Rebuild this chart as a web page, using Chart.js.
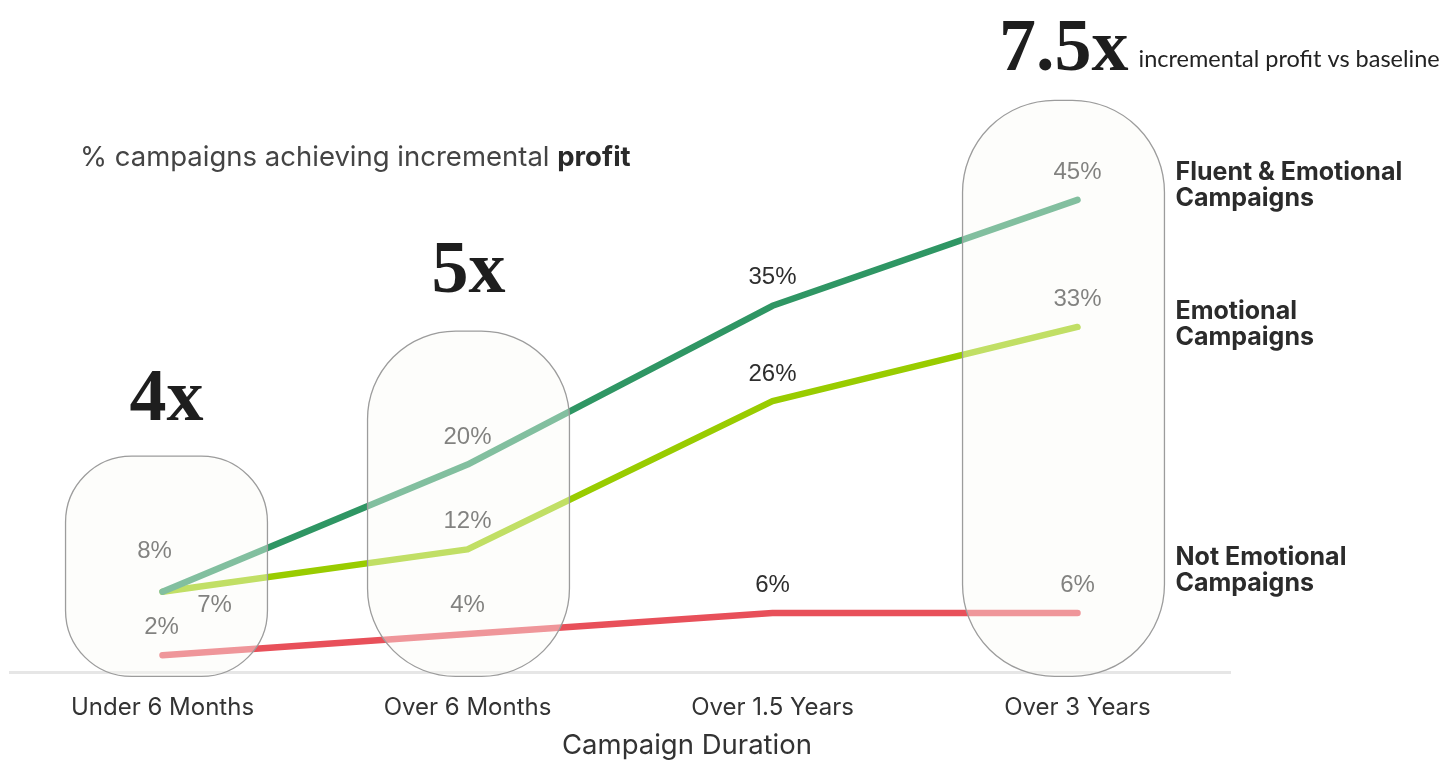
<!DOCTYPE html>
<html>
<head>
<meta charset="utf-8">
<script src="https://cdn.jsdelivr.net/npm/chart.js@4.4.0/dist/chart.umd.min.js"></script>
<style>
  html, body { margin: 0; padding: 0; background: #fff; }
  #wrap { width: 1450px; height: 776px; position: relative; }
</style>
</head>
<body>
<div id="wrap"><canvas id="profitChart"></canvas></div>
<script>
// chart data
const durations = ['Under 6 Months', 'Over 6 Months', 'Over 1.5 Years', 'Over 3 Years'];
const fluentEmotional = [8, 20, 35, 45];
const emotional = [8, 12, 26, 33];   // first point is drawn on the same spot as the 8% one
const notEmotional = [2, 4, 6, 6];
const fluentLabels = ['8%', '20%', '35%', '45%'];
const emotionalLabels = ['7%', '12%', '26%', '33%'];
const notEmotionalLabels = ['2%', '4%', '6%', '6%'];
const seriesNames = [['Fluent & Emotional', 'Campaigns'], ['Emotional', 'Campaigns'], ['Not Emotional', 'Campaigns']];
const multipliers = ['4x', '5x', '7.5x'];
const axisTitle = 'Campaign Duration';

// label placement relative to each point [dx, dy]
const labelOffsets = [
    [[-8, -40], [0, -27], [0, -28], [0, -27]],
    [[52, 14], [0, -28], [0, -27], [0, -28]],
    [[-1, -28], [0, -29], [0, -28], [0, -28]]
];
const nameOffsets = [-27, -15, -55];

// highlighted columns
const pills = [
    { index: 0, dx: 4, top: 20.8, radius: 66, text: 0, textDy: -36 },
    { index: 1, dx: 1, top: 32.6, radius: 88, text: 1, textDy: -39 },
    { index: 3, dx: -14, top: 54.4, radius: 92, text: 2, textDy: -30 }
];

const SANS = 'Inter, "Noto Sans", sans-serif';

function pillPath(ctx, x, y, w, h, r) {
    ctx.beginPath();
    ctx.moveTo(x + r, y);
    ctx.arcTo(x + w, y, x + w, y + h, r);
    ctx.arcTo(x + w, y + h, x, y + h, r);
    ctx.arcTo(x, y + h, x, y, r);
    ctx.arcTo(x, y, x + w, y, r);
    ctx.closePath();
}

const overlay = {
    id: 'overlay',
    afterDatasetsDraw(chart) {
        const ctx = chart.ctx;
        const xs = chart.scales.x, ys = chart.scales.y;
        ctx.save();

        // value labels
        ctx.font = '24px "Liberation Sans", Arial, sans-serif';
        ctx.fillStyle = '#2e2e2e';
        ctx.textAlign = 'center';
        ctx.textBaseline = 'middle';
        chart.data.datasets.forEach((ds, di) => {
            chart.getDatasetMeta(di).data.forEach((pt, i) => {
                const off = labelOffsets[di][i];
                ctx.fillText(ds.valueLabels[i], pt.x + off[0], pt.y + off[1]);
            });
        });

        // pills on top, semi transparent
        const step = xs.getPixelForValue(1) - xs.getPixelForValue(0);
        pills.forEach(p => {
            const cx = xs.getPixelForValue(p.index) + p.dx;
            const half = step * 0.331;
            const top = ys.getPixelForValue(p.top);
            const bottom = ys.getPixelForValue(0);
            pillPath(ctx, cx - half, top, half * 2, bottom - top, p.radius);
            ctx.fillStyle = 'rgba(250, 249, 245, 0.41)';
            ctx.fill();
            ctx.strokeStyle = '#9c9c9c';
            ctx.lineWidth = 1.3;
            ctx.stroke();
        });

        // big multipliers
        ctx.fillStyle = '#1e1e1e';
        ctx.font = 'bold 74px "Liberation Serif", "DejaVu Serif", serif';
        ctx.textBaseline = 'alphabetic';
        pills.forEach(p => {
            const cx = xs.getPixelForValue(p.index) + p.dx;
            const top = ys.getPixelForValue(p.top);
            const txt = multipliers[p.text];
            if (p.text < 2) {
                ctx.textAlign = 'center';
                ctx.fillText(txt, cx, top + p.textDy);
            } else {
                ctx.textAlign = 'left';
                ctx.fillText(txt, 999, top + p.textDy);
                const w = ctx.measureText(txt).width;
                ctx.save();
                ctx.font = '23.5px Lato, "Open Sans", sans-serif';
                ctx.fillStyle = '#222';
                ctx.fillText('incremental profit vs baseline', 999 + w + 10, top + p.textDy - 3);
                ctx.restore();
            }
        });

        // chart subtitle
        ctx.textAlign = 'left';
        ctx.textBaseline = 'middle';
        ctx.fillStyle = '#444';
        ctx.font = '27.5px ' + SANS;
        const part1 = '% campaigns achieving incremental ';
        ctx.fillText(part1, 80, 158);
        const w1 = ctx.measureText(part1).width;
        ctx.font = 'bold 27.5px ' + SANS;
        ctx.fillStyle = '#2a2a2a';
        ctx.fillText('profit', 80 + w1, 158);

        // series names at line ends
        ctx.font = 'bold 25px ' + SANS;
        ctx.fillStyle = '#2b2b2b';
        chart.data.datasets.forEach((ds, di) => {
            const meta = chart.getDatasetMeta(di).data;
            const last = meta[meta.length - 1];
            seriesNames[di].forEach((line, li) => {
                ctx.fillText(line, last.x + 98, last.y + nameOffsets[di] + li * 26);
            });
        });

        // x axis title, sits right of the plot centre in the original
        ctx.textAlign = 'center';
        ctx.font = '27.5px ' + SANS;
        ctx.fillStyle = '#333';
        ctx.fillText(axisTitle, (xs.left + xs.right) / 2 + 67, 746);

        ctx.restore();
    }
};

const ctx = document.getElementById('profitChart').getContext('2d');
const lineStyle = {
    borderWidth: 6.5,
    pointRadius: 0,
    pointHoverRadius: 0,
    tension: 0,
    borderCapStyle: 'round',
    borderJoinStyle: 'round',
    fill: false
};

const profitChart = new Chart(ctx, {
    type: 'line',
    data: {
        labels: durations,
        datasets: [
            Object.assign({ label: 'Fluent & Emotional Campaigns', data: fluentEmotional, valueLabels: fluentLabels, borderColor: '#2f9664' }, lineStyle),
            Object.assign({ label: 'Emotional Campaigns', data: emotional, valueLabels: emotionalLabels, borderColor: '#99cc00' }, lineStyle),
            Object.assign({ label: 'Not Emotional Campaigns', data: notEmotional, valueLabels: notEmotionalLabels, borderColor: '#e8505a' }, lineStyle)
        ]
    },
    options: {
        responsive: true,
        maintainAspectRatio: false,
        animation: false,
        layout: { padding: { left: 10, right: 220, top: 41, bottom: 33 } },
        plugins: {
            legend: { display: false },
            tooltip: { enabled: false }
        },
        scales: {
            x: {
                offset: true,
                grid: { display: false, drawTicks: false },
                border: { display: true, color: '#e6e6e6', width: 3 },
                ticks: { color: '#333', font: { family: SANS, size: 24 }, padding: 21, maxRotation: 0 }
            },
            y: {
                display: false,
                min: 0.4,
                max: 60
            }
        }
    },
    plugins: [overlay]
});
</script>
</body>
</html>
